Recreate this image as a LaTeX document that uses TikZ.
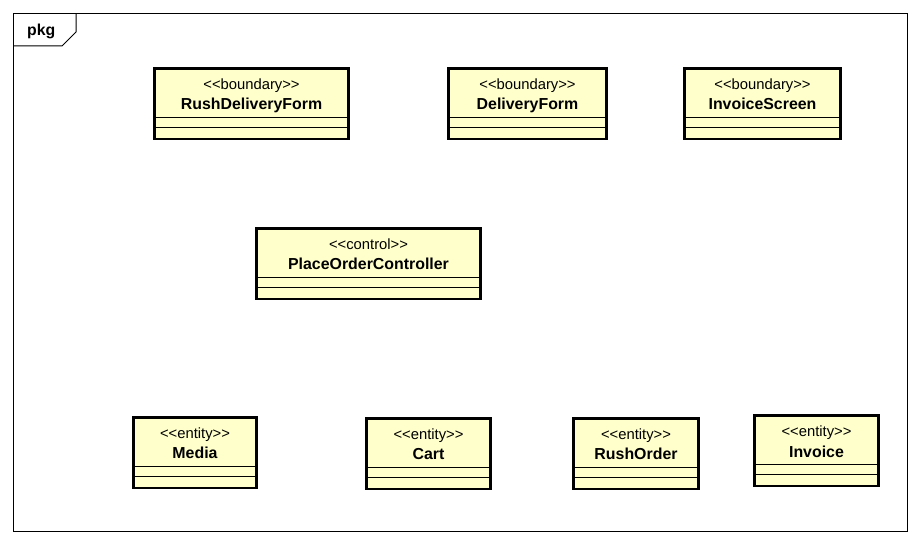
\documentclass[tikz,border=0pt]{standalone}
\usepackage{fontspec}
\setmainfont{Liberation Sans}
\definecolor{umlfill}{RGB}{255,255,204}
\tikzset{
  umlbox/.style={draw=black,line width=2.6pt,fill=umlfill,anchor=north west,inner sep=0pt,minimum height=70.6pt},
  sepline/.style={line width=1pt},
  stereotxt/.style={font=\fontsize{14.8}{14.8}\selectfont,anchor=base,inner sep=0pt},
  titletxt/.style={font=\fontsize{15.9}{15.9}\selectfont\bfseries,anchor=base,inner sep=0pt},
  framestyle/.style={line width=1pt}
}
\newcommand\umlclass[4]{% name, x, y, width; then stereotype, title
  \node[umlbox,minimum width=#4pt] (#1) at (#2,#3) {};
  \umlclassrest{#1}}
\newcommand\umlclassrest[3]{%
  \node[stereotxt] (#1s) at ([yshift=-23pt]#1.north) {<\kern0pt<#2>\kern0pt>};
  \node[titletxt] (#1t) at ([yshift=-43pt]#1.north) {#3};
  \draw[sepline] ([yshift=-50.5pt]#1.north west) -- ([yshift=-50.5pt]#1.north east);
  \draw[sepline] ([yshift=-61pt]#1.north west) -- ([yshift=-61pt]#1.north east);}
\begin{document}
\begin{tikzpicture}[x=1pt,y=-1pt]
\useasboundingbox (0,0) rectangle (922,545);
\draw[framestyle] (13.5,13.5) rectangle (907.5,531.5);
\draw[framestyle] (13.5,46) -- (62,46) -- (76,32) -- (76,13.5);
\node[font=\fontsize{15.8}{15.8}\selectfont\bfseries,anchor=base west,inner sep=0pt] (pkg) at (27,36) {pkg};
\umlclass{rdf}{153}{67}{194.4}{boundary}{RushDeliveryForm}
\umlclass{df}{447}{67}{158.4}{boundary}{DeliveryForm}
\umlclass{is}{683}{67}{156.4}{boundary}{InvoiceScreen}
\umlclass{poc}{255}{227}{224.4}{control}{PlaceOrderController}
\umlclass{media}{132}{416}{123.4}{entity}{Media}
\umlclass{cart}{365}{417}{124.4}{entity}{Cart}
\umlclass{ro}{572}{417}{125.4}{entity}{RushOrder}
\umlclass{inv}{753}{414}{124.4}{entity}{Invoice}
\end{tikzpicture}
\end{document}
